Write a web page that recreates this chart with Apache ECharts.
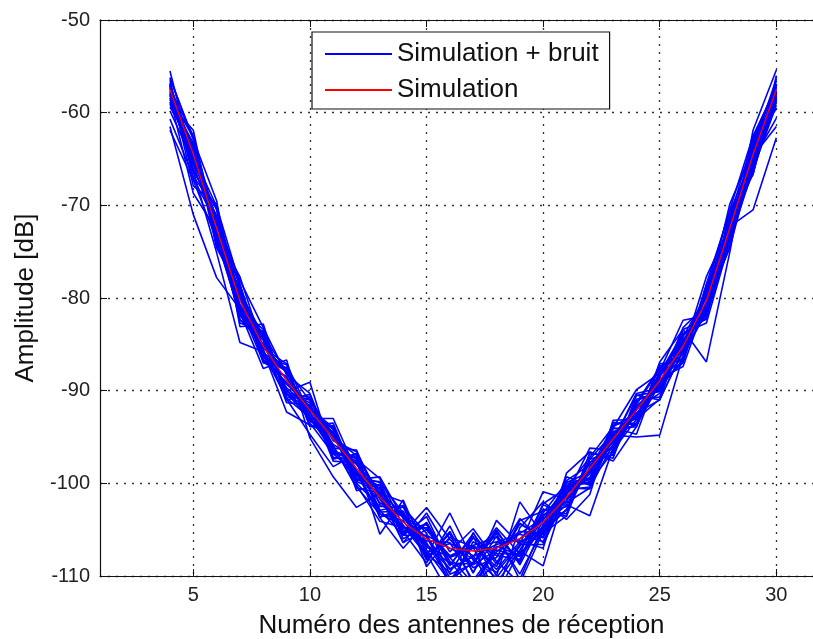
<!DOCTYPE html>
<html>
<head>
<meta charset="utf-8">
<script src="https://cdn.jsdelivr.net/npm/echarts@6/dist/echarts.min.js"></script>
<style>
  html, body { margin: 0; background: #fff; }
  #chart { width: 813px; height: 639px; }
</style>
</head>
<body>
<div id="chart"></div>
<script>
// numéros des antennes
var antennas = [4, 5, 6, 7, 8, 9, 10, 11, 12, 13, 14, 15, 16, 17, 18, 19, 20, 21, 22, 23, 24, 25, 26, 27, 28, 29, 30];

var xTicks = [5, 10, 15, 20, 25, 30];

// courbe simulée (rouge)
var simulation = [-57.5, -64.5, -72.5, -80.3, -85.2, -88.9, -92.1, -95.2, -98.4, -101.5, -104.2, -106.0, -107.0, -107.3, -107.0, -106.0, -104.2, -101.5, -98.4, -95.2, -92.1, -88.9, -85.2, -80.3, -72.5, -64.5, -57.5];

// tirages bruités (bleu)
var noisyRuns = [
  [-55.5, -65.5, -70.5, -82.7, -83.6, -90.1, -89.1, -97.2, -97.6, -105.5, -101.8, -107.6, -112.0, -105.3, -110.0, -102.0, -105.6, -99.3, -100.2, -94.0, -94.7, -87.9, -82.4, -81.9, -70.7, -66.7, -56.0],
  [-58.6, -63.3, -74.3, -78.9, -87.0, -87.5, -93.9, -93.8, -100.8, -100.1, -106.0, -104.4, -109.8, -108.7, -105.2, -108.6, -102.8, -103.3, -96.8, -97.0, -90.9, -90.7, -84.0, -81.7, -71.1, -65.9, -58.3],
  [-56.8, -66.1, -71.1, -81.7, -83.8, -90.5, -90.7, -96.8, -97.2, -103.1, -103.0, -108.2, -105.4, -110.9, -108.6, -104.4, -105.8, -100.3, -99.6, -93.6, -93.5, -87.3, -86.6, -78.9, -74.1, -63.1, -57.0],
  [-59.4, -63.5, -73.3, -79.5, -86.4, -87.9, -93.3, -94.4, -99.4, -100.5, -105.6, -103.6, -108.8, -105.7, -110.8, -107.2, -103.4, -102.5, -97.4, -96.6, -91.1, -89.9, -84.6, -81.3, -71.5, -65.5, -58.8],
  [-57.0, -67.9, -69.9, -81.3, -84.6, -91.3, -91.5, -96.2, -96.4, -102.3, -103.6, -107.2, -110.6, -106.7, -105.8, -109.8, -105.0, -100.7, -100.4, -94.6, -92.9, -88.3, -86.0, -79.5, -73.3, -63.7, -56.4],
  [-61.5, -71.0, -77.8, -81.2, -86.0, -90.8, -92.9, -94.6, -100.2, -104.1, -104.8, -104.8, -108.0, -110.8, -107.4, -105.4, -103.8, -102.1, -100.5, -95.8, -91.7, -89.3, -83.2, -80.7, -74.6, -65.1, -60.6],
  [-58.0, -66.3, -75.1, -84.8, -85.8, -92.3, -93.7, -94.8, -99.8, -100.9, -103.4, -106.6, -109.2, -107.9, -104.8, -107.6, -104.8, -99.7, -98.0, -96.0, -92.5, -89.1, -87.0, -79.1, -70.5, -62.5, -57.3],
  [-57.3, -65.1, -71.7, -79.7, -84.2, -90.1, -91.3, -97.6, -97.8, -101.7, -105.4, -102.6, -106.0, -109.1, -108.0, -103.8, -106.4, -101.1, -98.8, -94.4, -93.7, -88.5, -84.4, -82.1, -73.7, -64.7, -57.9],
  [-58.2, -62.7, -72.9, -80.9, -85.4, -87.1, -92.5, -95.8, -97.4, -99.5, -104.6, -107.8, -103.2, -108.3, -109.6, -106.6, -100.9, -101.7, -97.8, -95.4, -90.3, -89.7, -84.8, -79.9, -72.7, -66.5, -58.1],
  [-57.8, -63.9, -72.1, -78.7, -86.6, -89.1, -91.9, -94.0, -100.0, -102.5, -102.6, -105.4, -111.0, -106.3, -107.8, -108.2, -103.6, -100.5, -100.6, -94.8, -95.0, -94.8, -86.2, -81.5, -71.3, -65.3, -57.7],
  [-56.2, -62.9, -69.5, -83.1, -82.8, -90.9, -94.7, -98.2, -96.8, -103.7, -107.0, -104.2, -108.4, -111.5, -106.4, -106.2, -107.0, -98.9, -96.6, -97.6, -93.9, -86.9, -83.4, -86.9, -75.1, -61.9, -55.4],
  [-61.9, -67.3, -73.7, -81.5, -87.6, -86.7, -95.1, -99.3, -102.6, -101.1, -102.0, -109.0, -105.8, -106.9, -112.0, -104.8, -102.0, -103.9, -101.2, -93.2, -93.1, -90.9, -85.8, -77.7, -72.3, -70.5, -62.7],
  [-58.9, -64.9, -71.5, -78.1, -83.2, -88.3, -90.3, -96.4, -99.6, -99.3, -103.8, -105.8, -110.2, -111.5, -106.8, -107.8, -104.6, -102.3, -103.5, -96.2, -91.5, -87.7, -85.0, -81.1, -73.5, -64.1, -58.5],
  [-57.6, -66.4, -70.2, -80.0, -84.2, -90.3, -93.0, -93.0, -98.7, -103.3, -104.5, -107.5, -106.5, -107.8, -112.0, -107.3, -108.9, -100.5, -97.2, -93.9, -92.4, -91.0, -85.6, -79.8, -71.4, -62.9, -57.2],
  [-59.0, -61.9, -73.6, -81.8, -84.0, -88.0, -93.5, -96.8, -97.2, -102.9, -102.4, -106.4, -110.5, -108.5, -105.0, -108.8, -104.0, -100.1, -99.4, -94.0, -89.9, -88.1, -83.8, -82.7, -73.9, -66.1, -59.2],
  [-57.2, -64.1, -73.5, -79.1, -85.6, -90.7, -90.9, -95.0, -97.0, -101.3, -106.4, -103.2, -107.4, -104.9, -108.4, -110.8, -105.2, -102.9, -98.2, -95.6, -91.9, -89.5, -86.8, -78.5, -70.7, -64.9, -56.9],
  [-58.4, -68.7, -72.7, -82.3, -85.0, -88.1, -92.3, -96.8, -99.0, -100.3, -105.2, -108.6, -104.6, -109.7, -104.0, -106.6, -106.6, -101.3, -96.2, -96.4, -93.1, -88.9, -86.4, -80.9, -74.5, -63.3, -58.0],
  [-57.9, -64.7, -70.1, -78.5, -86.2, -89.3, -91.7, -94.6, -98.0, -100.7, -103.6, -105.0, -107.8, -106.7, -109.0, -104.0, -103.0, -101.9, -98.6, -93.8, -92.7, -88.5, -84.2, -79.7, -72.1, -64.3, -57.6],
  [-56.5, -67.1, -71.9, -80.7, -84.4, -89.9, -93.1, -96.0, -100.4, -103.3, -104.0, -107.6, -109.6, -105.9, -107.6, -107.6, -102.2, -100.5, -99.8, -96.6, -91.3, -87.5, -85.8, -80.5, -69.9, -63.9, -56.6],
  [-58.1, -63.7, -73.1, -77.7, -85.4, -87.7, -91.1, -95.4, -96.6, -101.5, -105.0, -106.2, -106.4, -110.5, -107.0, -105.2, -105.4, -103.5, -97.4, -94.6, -93.7, -89.3, -84.6, -81.5, -73.9, -65.5, -58.4],
  [-59.8, -65.3, -71.3, -81.1, -83.4, -90.3, -92.1, -94.2, -99.2, -99.9, -103.2, -106.8, -108.6, -108.7, -105.4, -110.4, -104.4, -101.1, -99.0, -95.4, -90.5, -90.1, -85.2, -79.3, -73.1, -62.7, -57.1],
  [-57.4, -62.5, -74.1, -79.9, -86.8, -88.5, -92.9, -96.6, -97.6, -102.9, -105.6, -105.6, -107.0, -108.1, -110.2, -106.8, -103.2, -99.9, -98.8, -94.8, -92.1, -88.7, -87.4, -80.3, -71.7, -64.7, -61.5],
  [-56.3, -62.8, -71.9, -78.6, -86.4, -87.2, -93.8, -93.5, -99.7, -99.8, -105.5, -104.3, -108.9, -105.4, -108.7, -104.3, -105.9, -99.8, -100.1, -93.4, -93.7, -87.1, -86.8, -78.6, -74.0, -62.9, -59.6],
  [-60.7, -66.9, -70.3, -82.4, -83.6, -91.0, -90.4, -97.4, -96.8, -103.7, -102.5, -108.3, -105.2, -109.6, -105.7, -108.4, -102.3, -103.6, -96.7, -97.3, -90.5, -91.0, -83.4, -82.3, -70.6, -66.6, -56.3],
  [-58.8, -63.4, -74.6, -79.3, -84.1, -90.4, -91.0, -95.9, -100.5, -101.0, -106.4, -105.0, -108.0, -107.0, -106.3, -105.5, -106.3, -100.4, -99.9, -94.1, -93.9, -88.4, -84.0, -81.9, -73.0, -65.8, -58.9],
  [-57.1, -65.6, -72.9, -80.9, -86.9, -88.6, -93.3, -94.0, -98.9, -103.6, -103.1, -107.9, -106.0, -108.8, -107.2, -107.9, -104.9, -102.8, -97.7, -96.9, -92.0, -89.7, -86.6, -79.1, -72.0, -64.0, -58.2],
  [-59.1, -64.0, -71.5, -81.9, -85.0, -89.7, -91.9, -96.5, -97.3, -101.0, -104.8, -105.7, -109.3, -107.9, -106.6, -106.0, -103.9, -101.9, -98.4, -95.9, -91.9, -90.3, -84.9, -81.1, -72.9, -64.2, -57.4],
  [-56.9, -64.6, -72.8, -79.6, -85.9, -87.9, -92.8, -95.0, -98.6, -102.1, -103.5, -106.9, -107.9, -106.7, -109.3, -106.3, -105.2, -100.9, -99.4, -95.0, -92.8, -88.0, -85.6, -80.7, -71.3, -65.3, -57.8]
];

var fontMatlab = "Arial, 'Liberation Sans', Helvetica, sans-serif";
var gridDots = { color: "#333", width: 1.3, type: [2, 6] };

function toPoints(values) {
  return antennas.map(function (x, i) { return [x, values[i]]; });
}

var series = noisyRuns.map(function (run) {
  return {
    name: "Simulation + bruit",
    type: "line",
    symbol: "none",
    color: "#0000ff",
    lineStyle: { color: "#0000ff", width: 1.6 },
    data: toPoints(run)
  };
});

// la courbe rouge par-dessus
series.push({
  name: "Simulation",
  type: "line",
  symbol: "none",
  color: "#ff0000",
  lineStyle: { color: "#ff0000", width: 1.3 },
  z: 5,
  data: toPoints(simulation)
});

var option = {
  animation: false,
  backgroundColor: "#fff",
  grid: { left: 100, top: 20, right: -10, bottom: 63, outerBoundsMode: "none", containLabel: false },
  legend: {
    data: ["Simulation + bruit", "Simulation"],
    orient: "vertical",
    left: 312,
    top: 32,
    padding: [9, 11, 6, 13],
    itemGap: 10,
    itemWidth: 67,
    itemHeight: 2,
    icon: "rect",
    backgroundColor: "#fff",
    borderColor: "#111",
    borderWidth: 1.2,
    borderRadius: 0,
    textStyle: { fontSize: 26, fontFamily: fontMatlab, color: "#111", lineHeight: 24 }
  },
  xAxis: [
    {
      type: "value",
      min: 1,
      max: 32,
      name: "Numéro des antennes de réception",
      nameLocation: "middle",
      nameGap: 37,
      nameTextStyle: { fontSize: 26, fontFamily: fontMatlab, color: "#111" },
      axisLine: { lineStyle: { color: "#111", width: 1.2 } },
      axisTick: { inside: true, length: 7, customValues: xTicks, lineStyle: { color: "#111" } },
      axisLabel: { customValues: xTicks, fontSize: 20, fontFamily: fontMatlab, color: "#222", margin: 9 },
      splitLine: { show: true, lineStyle: gridDots }
    },
    {
      type: "value",
      position: "top",
      min: 1,
      max: 32,
      axisLine: { lineStyle: { color: "#111", width: 1.2 } },
      axisTick: { inside: true, length: 7, customValues: xTicks, lineStyle: { color: "#111" } },
      axisLabel: { show: false },
      splitLine: { show: false }
    }
  ],
  yAxis: {
    type: "value",
    min: -110,
    max: -50,
    interval: 10,
    name: "Amplitude [dB]",
    nameLocation: "middle",
    nameGap: 52,
    nameTextStyle: { fontSize: 26, fontFamily: fontMatlab, color: "#111" },
    axisLine: { show: true, lineStyle: { color: "#111", width: 1.2 } },
    axisTick: { show: true, inside: true, length: 7, lineStyle: { color: "#111" } },
    axisLabel: { fontSize: 20, fontFamily: fontMatlab, color: "#222", margin: 10 },
    splitLine: { show: true, lineStyle: gridDots }
  },
  series: series
};

var myChart = echarts.init(document.getElementById("chart"), null, { renderer: "canvas" });
myChart.setOption(option);
</script>
</body>
</html>
